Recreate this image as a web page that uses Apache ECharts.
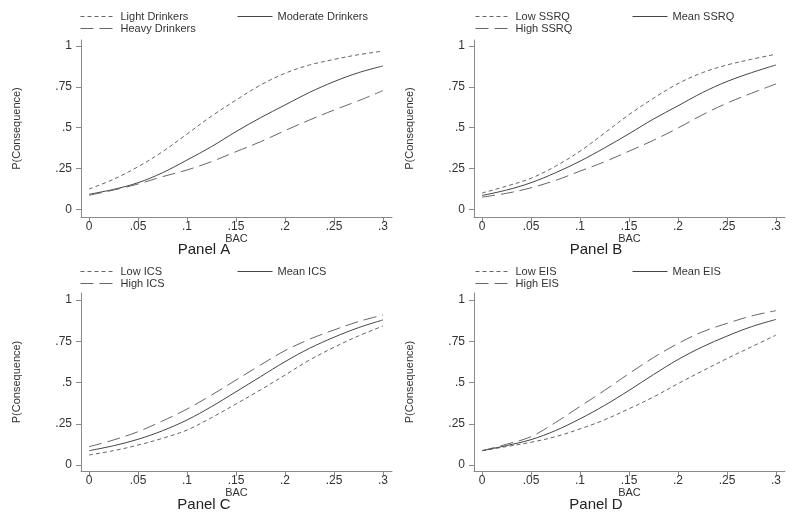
<!DOCTYPE html>
<html>
<head>
<meta charset="utf-8">
<script src="https://cdn.jsdelivr.net/npm/echarts@6/dist/echarts.min.js"></script>
<style>html,body{margin:0;padding:0;background:#fff}#c{width:800px;height:520px}</style>
</head>
<body>
<div id="c"></div>
<script>
// BAC values (x)
const bac = [0, 0.025, 0.05, 0.075, 0.1, 0.125, 0.15, 0.175, 0.2, 0.225, 0.25, 0.275, 0.3];
const xTicks = [0, 0.05, 0.1, 0.15, 0.2, 0.25, 0.3];
const yTicks = [0, 0.25, 0.5, 0.75, 1];

// Panel A
const lightDrinkers    = [0.124, 0.184, 0.261, 0.353, 0.461, 0.571, 0.669, 0.761, 0.833, 0.884, 0.918, 0.947, 0.969];
const moderateDrinkers = [0.092, 0.122, 0.163, 0.224, 0.302, 0.384, 0.476, 0.561, 0.639, 0.716, 0.782, 0.837, 0.878];
const heavyDrinkers    = [0.086, 0.118, 0.155, 0.200, 0.241, 0.292, 0.353, 0.414, 0.482, 0.547, 0.608, 0.665, 0.727];
// Panel B
const lowSSRQ  = [0.100, 0.142, 0.190, 0.264, 0.356, 0.467, 0.580, 0.680, 0.770, 0.837, 0.884, 0.919, 0.950];
const meanSSRQ = [0.085, 0.118, 0.163, 0.224, 0.295, 0.376, 0.463, 0.553, 0.634, 0.715, 0.783, 0.837, 0.884];
const highSSRQ = [0.075, 0.098, 0.132, 0.177, 0.234, 0.291, 0.356, 0.423, 0.498, 0.579, 0.650, 0.711, 0.768];
// Panel C
const lowICS  = [0.061, 0.087, 0.121, 0.162, 0.212, 0.287, 0.370, 0.455, 0.545, 0.636, 0.713, 0.782, 0.842];
const meanICS = [0.087, 0.117, 0.156, 0.208, 0.273, 0.354, 0.444, 0.535, 0.626, 0.707, 0.774, 0.832, 0.879];
const highICS = [0.111, 0.152, 0.202, 0.267, 0.339, 0.424, 0.515, 0.606, 0.693, 0.762, 0.818, 0.869, 0.909];
// Panel D
const lowEIS  = [0.087, 0.112, 0.138, 0.172, 0.219, 0.274, 0.341, 0.412, 0.493, 0.570, 0.645, 0.716, 0.787];
const meanEIS = [0.087, 0.118, 0.154, 0.209, 0.280, 0.361, 0.452, 0.548, 0.639, 0.716, 0.781, 0.838, 0.882];
const highEIS = [0.087, 0.126, 0.172, 0.258, 0.355, 0.452, 0.554, 0.651, 0.736, 0.807, 0.858, 0.903, 0.935];

const panelTitles = ['Panel A', 'Panel B', 'Panel C', 'Panel D'];
const panelSeries = [
  [['Light Drinkers', lightDrinkers, 'short'], ['Moderate Drinkers', moderateDrinkers, 'solid'], ['Heavy Drinkers', heavyDrinkers, 'long']],
  [['Low SSRQ', lowSSRQ, 'short'], ['Mean SSRQ', meanSSRQ, 'solid'], ['High SSRQ', highSSRQ, 'long']],
  [['Low ICS', lowICS, 'short'], ['Mean ICS', meanICS, 'solid'], ['High ICS', highICS, 'long']],
  [['Low EIS', lowEIS, 'short'], ['Mean EIS', meanEIS, 'solid'], ['High EIS', highEIS, 'long']]
];

const layout = [
  {left: 81,  top: 40,  width: 311, height: 177, ymin: -0.047, ymax: 1.037, titleX: 204, titleY: 242, legX: 80,  legY: 11},
  {left: 474, top: 40,  width: 311, height: 177, ymin: -0.047, ymax: 1.037, titleX: 596, titleY: 242, legX: 475, legY: 11},
  {left: 81,  top: 293, width: 311, height: 178, ymin: -0.036, ymax: 1.042, titleX: 204, titleY: 497, legX: 80,  legY: 266},
  {left: 474, top: 293, width: 311, height: 178, ymin: -0.036, ymax: 1.042, titleX: 596, titleY: 497, legX: 475, legY: 266}
];

const fmt = v => (v === 0 ? '0' : String(v).replace(/^0\./, '.'));
const dashMap = {short: [4, 3], solid: 'solid', long: [13, 6]};
const txt = '#333';
const axisCol = '#8a8a8a';

const grid = [], xAxis = [], yAxis = [], series = [], legend = [], title = [];
layout.forEach((L, i) => {
  grid.push({left: L.left, top: L.top, width: L.width, height: L.height, containLabel: false});
  xAxis.push({
    type: 'value', gridIndex: i, min: -0.0082, max: 0.3092,
    name: 'BAC', nameLocation: 'middle', nameGap: 15,
    nameTextStyle: {fontFamily: 'Liberation Sans', fontSize: 11, color: txt},
    axisLine: {show: true, onZero: false, lineStyle: {color: axisCol, width: 1}},
    axisTick: {show: true, length: 5, customValues: xTicks, lineStyle: {color: axisCol}},
    axisLabel: {customValues: xTicks, formatter: fmt, margin: 4, fontFamily: 'Liberation Sans', fontSize: 12, color: txt},
    splitLine: {show: false}
  });
  yAxis.push({
    type: 'value', gridIndex: i, min: L.ymin, max: L.ymax,
    name: 'P(Consequence)', nameLocation: 'middle', nameGap: 59,
    nameTextStyle: {fontFamily: 'Liberation Sans', fontSize: 11, color: txt},
    axisLine: {show: true, onZero: false, lineStyle: {color: axisCol, width: 1}},
    axisTick: {show: true, length: 5, customValues: yTicks, lineStyle: {color: axisCol}},
    axisLabel: {customValues: yTicks, formatter: fmt, margin: 9, fontFamily: 'Liberation Sans', fontSize: 12, color: txt},
    splitLine: {show: false}
  });
  title.push({
    text: panelTitles[i], left: L.titleX, top: L.titleY, textAlign: 'center', padding: 0,
    textStyle: {fontFamily: 'Liberation Sans', fontSize: 15, fontWeight: 'normal', color: '#222'}
  });
  const legPos = [[L.legX, L.legY], [L.legX + 157, L.legY], [L.legX, L.legY + 12]];
  panelSeries[i].forEach((s, k) => {
    const [name, vals, style] = s;
    const col = style === 'solid' ? '#444' : '#666';
    series.push({
      name, type: 'line', xAxisIndex: i, yAxisIndex: i,
      data: bac.map((x, j) => [x, vals[j]]),
      smooth: 0.35, symbol: 'none', showSymbol: false,
      lineStyle: {color: col, width: 1, type: dashMap[style]},
      itemStyle: {color: col},
      emphasis: {disabled: true}
    });
    legend.push({
      data: [name], left: legPos[k][0], top: legPos[k][1], padding: 0,
      itemWidth: 35, itemHeight: 10, itemGap: 5, selectedMode: false,
      itemStyle: {opacity: 0, borderWidth: 0},
      lineStyle: {width: 1, color: col, type: dashMap[style]},
      textStyle: {fontFamily: 'Liberation Sans', fontSize: 11, color: txt, padding: [0, 0, 0, 0]}
    });
  });
});

const chart = echarts.init(document.getElementById('c'), null, {renderer: 'canvas'});
chart.setOption({animation: false, backgroundColor: '#fff', title, legend, grid, xAxis, yAxis, series});
</script>
</body>
</html>
